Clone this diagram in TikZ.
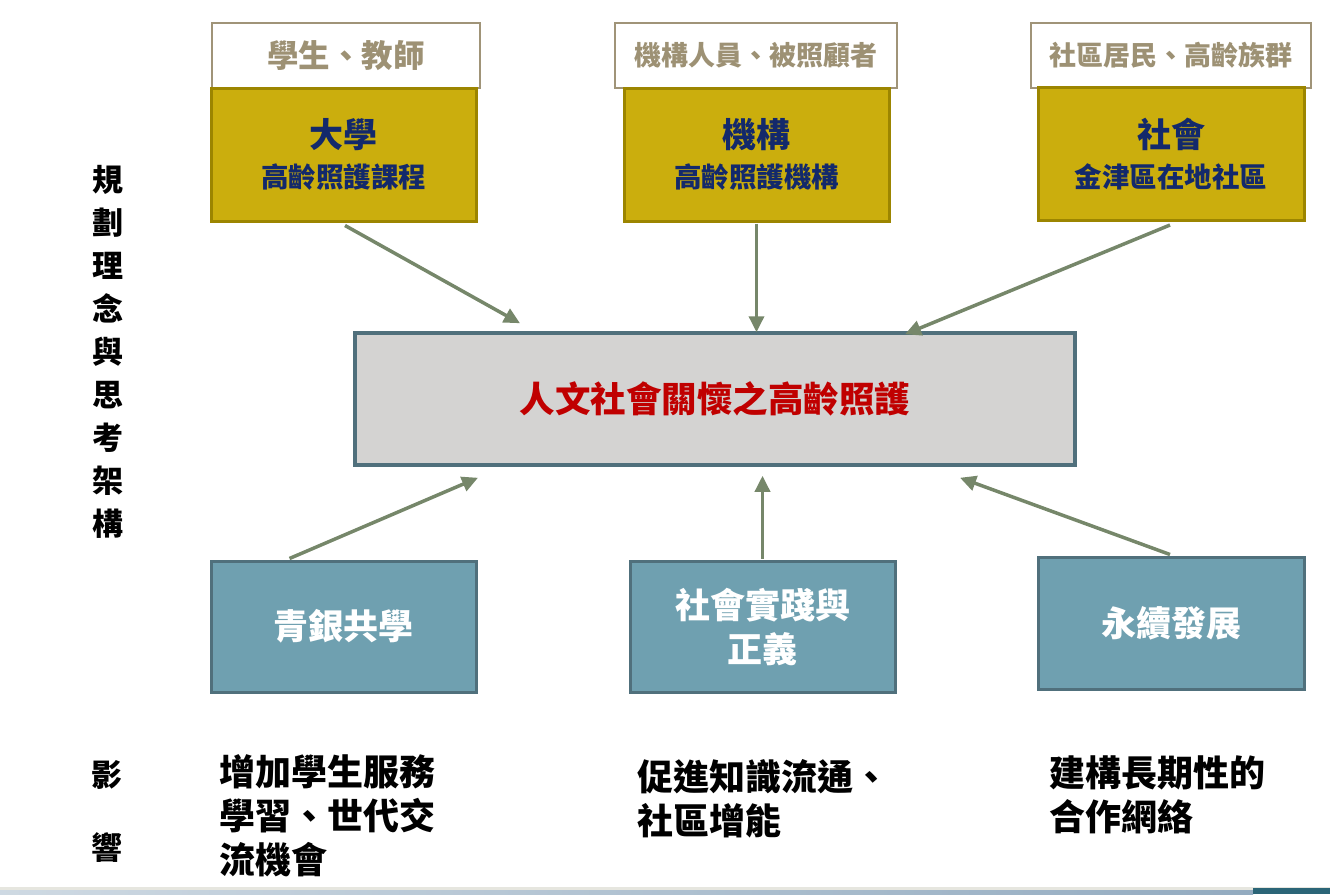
\documentclass[tikz,border=0pt]{standalone}
\usepackage{fontspec}
\setmainfont{Noto Sans CJK TC}
\usetikzlibrary{arrows.meta,calc}
\definecolor{goldfill}{HTML}{CBAE0D}
\definecolor{goldline}{HTML}{9C8500}
\definecolor{navy}{HTML}{13296B}
\definecolor{khaki}{HTML}{A09478}
\definecolor{khakitext}{HTML}{9D9174}
\definecolor{centerfill}{HTML}{D4D3D2}
\definecolor{slate}{HTML}{50707C}
\definecolor{darkred}{HTML}{C00000}
\definecolor{tealfill}{HTML}{6FA0B0}
\definecolor{arrowc}{HTML}{76876A}
\definecolor{footlight}{HTML}{E6E6DF}
\definecolor{footblue}{HTML}{93ABC0}
\definecolor{footdark}{HTML}{2B6577}
\tikzset{
  whitebox/.style={draw=khaki,line width=2pt,fill=white,text=khakitext,inner sep=0pt,font=\bfseries\fontsize{27}{32}\selectfont},
  goldbox/.style={draw=goldline,line width=3pt,fill=goldfill,text=navy,inner sep=0pt,minimum width=265pt,minimum height=133pt,align=center,font=\bfseries\fontsize{27.5}{40}\selectfont},
  centerbox/.style={draw=slate,line width=3.5pt,fill=centerfill,text=darkred,inner sep=0pt,minimum width=720pt,minimum height=132pt,font=\bfseries\fontsize{35.5}{40}\selectfont},
  tealbox/.style={draw=slate,line width=3pt,fill=tealfill,text=white,inner sep=0pt,minimum width=265pt,minimum height=131pt,align=center,font=\bfseries\fontsize{35}{44}\selectfont},
  arr/.style={draw=arrowc,line width=3.5pt,-{Triangle[length=16pt,width=15pt]}},
  sidetext/.style={inner sep=0pt,align=center,font=\bfseries\fontsize{31}{43}\selectfont},
  effect/.style={inner sep=0pt,anchor=north west,align=left,font=\bfseries\fontsize{36}{44}\selectfont}
}
\begin{document}
\begin{tikzpicture}[x=1pt,y=-1pt]
\useasboundingbox (0,0) rectangle (1330,894);
% footer bar
\fill[footlight] (0,887) rectangle (1330,890);
\shade[left color=footblue!45,right color=footblue] (0,890) rectangle (1253,894);
\fill[footdark] (1253,888) rectangle (1330,894);
% top white boxes
\node[whitebox,minimum width=268pt,minimum height=65pt,font=\bfseries\fontsize{31.5}{36}\selectfont] (w1) at (346,55.5) {學生、教師};
\node[whitebox,minimum width=282pt,minimum height=65pt] (w2) at (756,55.5) {機構人員、被照顧者};
\node[whitebox,minimum width=280pt,minimum height=65pt] (w3) at (1171,55.5) {社區居民、高齡族群};
% gold boxes
\node[goldbox] (g1) at (343.5,154.5) {{\fontsize{34}{40}\selectfont 大學}\\高齡照護課程};
\node[goldbox] (g2) at (756.5,154.5) {{\fontsize{34}{40}\selectfont 機構}\\高齡照護機構};
\node[goldbox,minimum width=266pt] (g3) at (1171,154) {{\fontsize{34}{40}\selectfont 社會}\\金津區在地社區};
% center
\node[centerbox] (c) at (715,399) {人文社會關懷之高齡照護};
% bottom boxes
\node[tealbox] (b1) at (343.5,626.5) {青銀共學};
\node[tealbox] (b2) at (762.5,626.5) {社會實踐與\\正義};
\node[tealbox,minimum width=266pt,minimum height=132pt] (b3) at (1171,623) {永續發展};
% arrows
\draw[arr] ([xshift=1.5pt,yshift=-3pt]g1.south) -- ([xshift=-195pt,yshift=8pt]c.north);
\draw[arr] ([yshift=-1pt]g2.south) -- ([yshift=-1pt]g2.south |- c.north);
\draw[arr] ([xshift=-1pt,yshift=-3pt]g3.south) -- ([xshift=190pt,yshift=-3pt]c.north);
\draw[arr] ([xshift=-54pt,yshift=1pt]b1.north) -- ([xshift=-237pt,yshift=-11pt]c.south);
\draw[arr] ([yshift=1pt]b2.north) -- ([yshift=-9pt]b2.north |- c.south);
\draw[arr] ([xshift=-1pt,yshift=1pt]b3.north) -- ([xshift=245pt,yshift=-11pt]c.south);
% side labels
\node[sidetext] (plan) at (108,352) {規\\劃\\理\\念\\與\\思\\考\\架\\構};
\node[sidetext] (ying) at (107,775) {影};
\node[sidetext] (xiang) at (107,848) {響};
% effects
\node[effect] (e1) at (219,754) {增加學生服務\\學習、世代交\\流機會};
\node[effect] (e2) at (637,759) {促進知識流通、\\社區增能};
\node[effect] (e3) at (1049,756) {建構長期性的\\合作網絡};
\end{tikzpicture}
\end{document}
